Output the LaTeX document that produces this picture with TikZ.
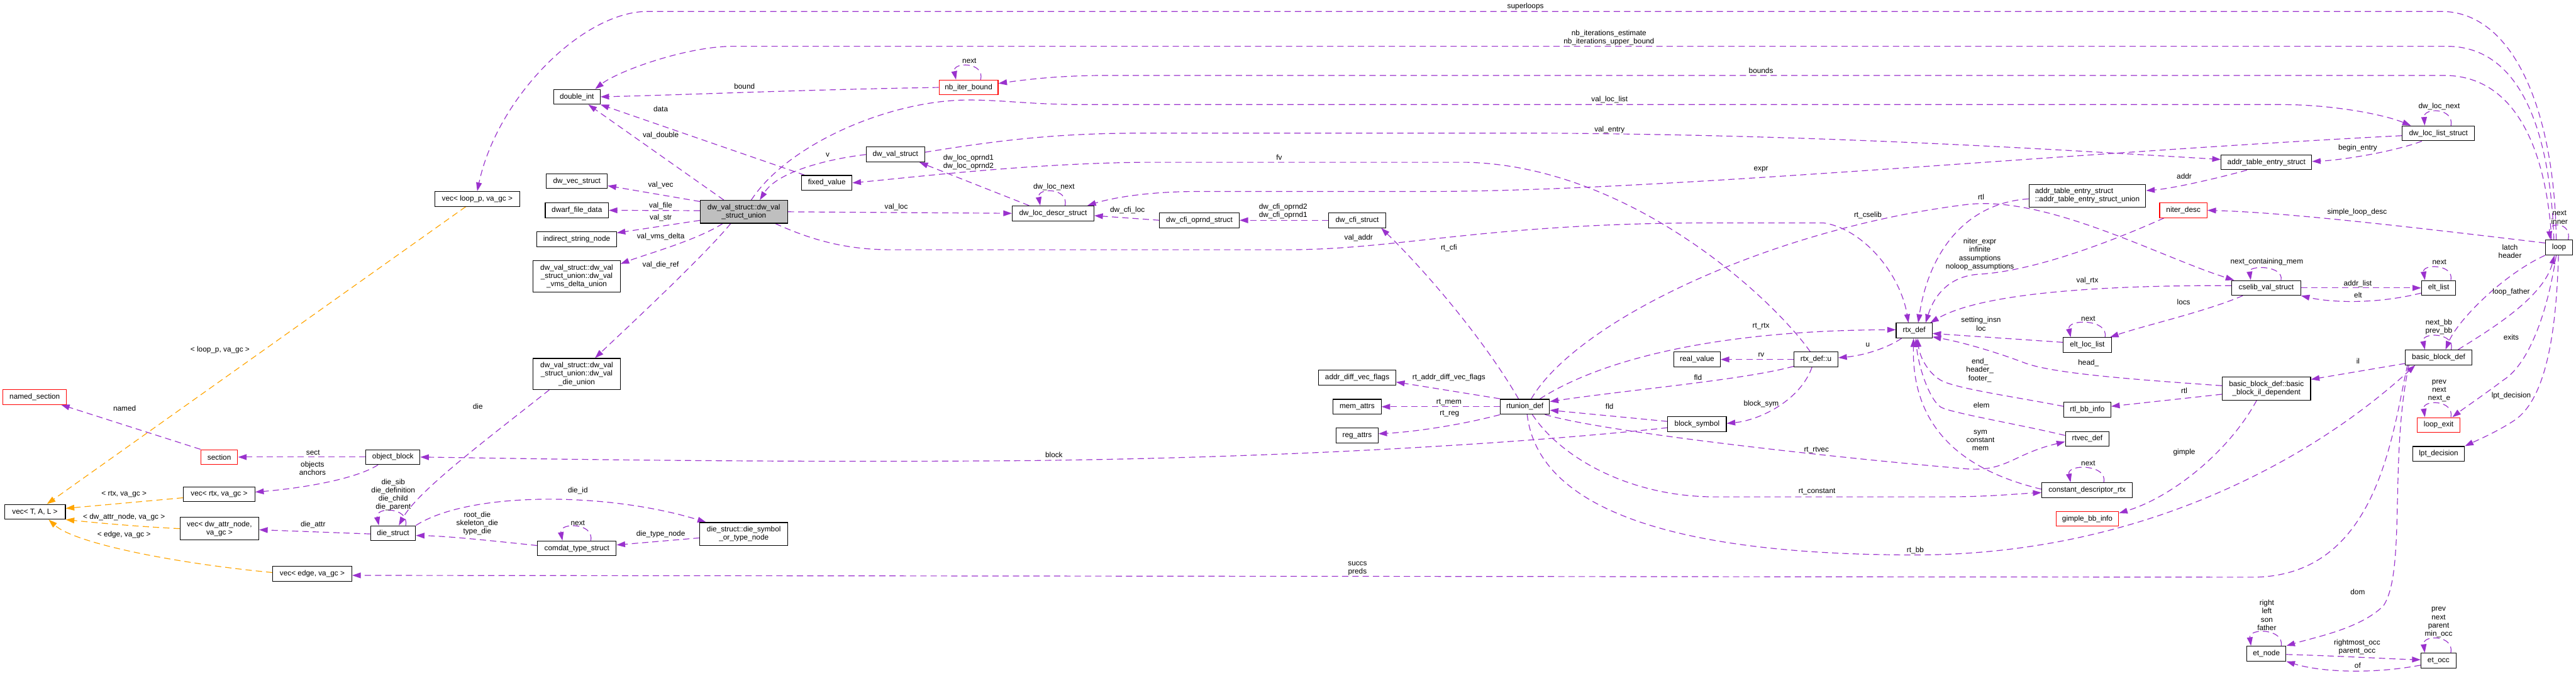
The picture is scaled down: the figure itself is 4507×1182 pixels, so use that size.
\documentclass[tikz,border=0pt]{standalone}
\usepackage{fontspec}
\setmainfont{Liberation Sans}
\usetikzlibrary{arrows.meta}
\definecolor{epurple}{HTML}{9A32CD}
\definecolor{eorange}{HTML}{FFA500}
\definecolor{hlgray}{HTML}{BFBFBF}
\newcommand\dxfont{\fontsize{13}{14.5}\selectfont}
\pgfdeclarelayer{bg}
\pgfdeclarelayer{edges}
\pgfsetlayers{bg,edges,main}
\tikzset{
 cls/.style={draw=black, line width=1.2pt, fill=white, inner sep=0pt, minimum height=26pt, font=\dxfont, align=center},
 cls2/.style={cls, minimum height=40pt},
 cls3/.style={cls, minimum height=54.5pt},
 hl/.style={fill=hlgray},
 redbox/.style={draw=red},
 lnk/.style={draw=epurple, line width=1.3pt, dash pattern=on 11pt off 7pt, -{Triangle[length=15pt,width=10pt]}},
 lnko/.style={lnk, draw=eorange},
 lbl/.style={font=\dxfont, align=center, inner sep=0pt, text=black},
}
\begin{document}
\begin{tikzpicture}[x=1pt,y=-1pt]
\begin{pgfonlayer}{bg}
\fill[white] (0,0) rectangle (4507,1182);
\end{pgfonlayer}
\useasboundingbox (0,0) rectangle (4507,1182);

% ---------------- nodes ----------------
\node[cls, minimum width=148pt] (vloop) at (835,348) {vec< loop\_p, va\_gc >};
\node[cls, minimum width=81.4pt] (dint) at (1009.3,169.4) {double\_int};
\node[cls, minimum width=106.6pt] (dvec) at (1009.3,317) {dw\_vec\_struct};
\node[cls, minimum width=110.6pt] (dfile) at (1009.3,368) {dwarf\_file\_data};
\node[cls, minimum width=139pt] (isn) at (1009,418.5) {indirect\_string\_node};
\node[cls3, minimum width=152.3pt] (vms) at (1009,483.7) {dw\_val\_struct::dw\_val\\\_struct\_union::dw\_val\\\_vms\_delta\_union};
\node[cls2, hl, minimum width=152.7pt] (main) at (1301.4,370.6) {dw\_val\_struct::dw\_val\\\_struct\_union};
\node[cls, minimum width=88.2pt] (fixv) at (1446.6,320) {fixed\_value};
\node[cls, minimum width=102.3pt] (dvs) at (1566.6,270.4) {dw\_val\_struct};
\node[cls, redbox, minimum width=103.2pt] (nbib) at (1694.6,153) {nb\_iter\_bound};
\node[cls, minimum width=143pt] (dlds) at (1842.5,373.3) {dw\_loc\_descr\_struct};
\node[cls, minimum width=139.2pt] (dcos) at (2098.4,385.4) {dw\_cfi\_oprnd\_struct};
\node[cls, minimum width=99.9pt] (dcs) at (2374.5,385.4) {dw\_cfi\_struct};
\node[cls2, minimum width=204.5pt, align=left] (ateu) at (3652,342.5) {addr\_table\_entry\_struct\\::addr\_table\_entry\_struct\_union};
\node[cls, minimum width=63pt] (rtx) at (3349,578.5) {rtx\_def};
\node[cls, minimum width=158.4pt] (ate) at (3965.3,284) {addr\_table\_entry\_struct};
\node[cls, minimum width=126.5pt] (dlls) at (4266.2,233.4) {dw\_loc\_list\_struct};
\node[cls, redbox, minimum width=83pt] (niter) at (3820,368) {niter\_desc};
\node[cls, minimum width=47.8pt] (loop) at (4477.3,433.2) {loop};
\node[cls, minimum width=120.7pt] (cselib) at (3964.9,503.8) {cselib\_val\_struct};
\node[cls, minimum width=59.8pt] (eltl) at (4266.6,503.8) {elt\_list};
\node[cls, minimum width=115.8pt] (bbd) at (4266.6,625.4) {basic\_block\_def};
\node[cls2, minimum width=154.6pt] (bbil) at (3965.3,679.9) {basic\_block\_def::basic\\\_block\_il\_dependent};
\node[cls, redbox, minimum width=75.2pt] (lexit) at (4266.6,743.7) {loop\_exit};
\node[cls, minimum width=90.8pt] (lpt) at (4266.6,794.2) {lpt\_decision};
\node[cls, minimum width=68.6pt] (etn) at (3965.3,1143.7) {et\_node};
\node[cls, minimum width=61.3pt] (eto) at (4266.4,1155.9) {et\_occ};
\node[cls, redbox, minimum width=111pt] (nsec) at (60.8,694.6) {named\_section};
\node[cls, redbox, minimum width=64.5pt] (sec) at (383.6,799.8) {section};
\node[cls, minimum width=94.5pt] (ob) at (687.5,799.8) {object\_block};
\node[cls, minimum width=125pt] (vrtx) at (383.4,865) {vec< rtx, va\_gc >};
\node[cls, minimum width=106.6pt] (vtal) at (61.1,895.6) {vec< T, A, L >};
\node[cls2, minimum width=137.7pt] (vattr) at (383.9,925) {vec< dw\_attr\_node,\\va\_gc >};
\node[cls, minimum width=78.5pt] (die) at (687.8,933) {die\_struct};
\node[cls, minimum width=138.6pt] (vedge) at (546.3,1003.8) {vec< edge, va\_gc >};
\node[cls3, minimum width=152.3pt] (dieu) at (1009,654.4) {dw\_val\_struct::dw\_val\\\_struct\_union::dw\_val\\\_die\_union};
\node[cls, minimum width=137.6pt] (comdat) at (1009.3,959.6) {comdat\_type\_struct};
\node[cls2, minimum width=153.7pt] (dsym) at (1301.4,934.4) {die\_struct::die\_symbol\\\_or\_type\_node};
\node[cls, minimum width=134.8pt] (adv) at (2374.6,661) {addr\_diff\_vec\_flags};
\node[cls, minimum width=84pt] (mem) at (2374.4,711.7) {mem\_attrs};
\node[cls, minimum width=73.3pt] (reg) at (2374.4,762) {reg\_attrs};
\node[cls, minimum width=86.3pt] (rtu) at (2667.9,711.7) {rtunion\_def};
\node[cls, minimum width=81.1pt] (rv) at (2969.2,629) {real\_value};
\node[cls, minimum width=102.4pt] (bsym) at (2969.2,742.4) {block\_symbol};
\node[cls, minimum width=77pt] (rtxu) at (3177.2,629) {rtx\_def::u};
\node[cls, minimum width=84.3pt] (ell) at (3651.9,603.7) {elt\_loc\_list};
\node[cls, minimum width=82.3pt] (rbb) at (3651.9,717) {rtl\_bb\_info};
\node[cls, minimum width=76.6pt] (rtvec) at (3651.9,767.9) {rtvec\_def};
\node[cls, minimum width=158.6pt] (cdr) at (3651.7,857.5) {constant\_descriptor\_rtx};
\node[cls, redbox, minimum width=109.5pt] (gbb) at (3652,907.9) {gimple\_bb\_info};

% ---------------- labels ----------------
\node[lbl] (l01) at (2669,11.5) {superloops};
\node[lbl] (l02) at (2815,66) {nb\_iterations\_estimate\\nb\_iterations\_upper\_bound};
\node[lbl] (l03) at (3081,123.6) {bounds};
\node[lbl] (l04) at (1302.5,151) {bound};
\node[lbl] (l05) at (1696,106) {next};
\node[lbl] (l06) at (2816,174.5) {val\_loc\_list};
\node[lbl] (l07) at (4267.6,186) {dw\_loc\_next};
\node[lbl] (l08) at (2816,227) {val\_entry};
\node[lbl] (l09) at (1448,271) {v};
\node[lbl] (l10) at (2238,275) {fv};
\node[lbl] (l11) at (1156,191) {data};
\node[lbl] (l12) at (1156,236.5) {val\_double};
\node[lbl] (l13) at (1156,324) {val\_vec};
\node[lbl] (l14) at (1156,359.7) {val\_file};
\node[lbl] (l15) at (1156,380.8) {val\_str};
\node[lbl] (l16) at (1156,414.5) {val\_vms\_delta};
\node[lbl] (l17) at (1156,464) {val\_die\_ref};
\node[lbl] (l18) at (1568,362) {val\_loc};
\node[lbl] (l19) at (1694.5,283.8) {dw\_loc\_oprnd1\\dw\_loc\_oprnd2};
\node[lbl] (l20) at (1844,327) {dw\_loc\_next};
\node[lbl] (l21) at (1972.6,368) {dw\_cfi\_loc};
\node[lbl] (l22) at (2245,369.7) {dw\_cfi\_oprnd2\\dw\_cfi\_oprnd1};
\node[lbl] (l23) at (2377,416.4) {val\_addr};
\node[lbl] (l24) at (3081,297) {expr};
\node[lbl] (l25) at (4125,258.7) {begin\_entry};
\node[lbl] (l26) at (3821.5,308.5) {addr};
\node[lbl] (l27) at (3466,344.4) {rtl};
\node[lbl] (l28) at (3268,376.6) {rt\_cselib};
\node[lbl] (l29) at (3464,445) {niter\_expr\\infinite\\assumptions\\noloop\_assumptions};
\node[lbl] (l30) at (2535,434) {rt\_cfi};
\node[lbl] (l31) at (3652,491) {val\_rtx};
\node[lbl] (l32) at (3820.5,529) {locs};
\node[lbl] (l33) at (3653.5,558) {next};
\node[lbl] (l34) at (3466,567) {setting\_insn\\loc};
\node[lbl] (l35) at (3081,571) {rt\_rtx};
\node[lbl] (l36) at (3268,604) {u};
\node[lbl] (l37) at (3081.4,621) {rv};
\node[lbl] (l38) at (3654,635) {head\_};
\node[lbl] (l39) at (3464,647.8) {end\_\\header\_\\footer\_};
\node[lbl] (l40) at (2535,660.6) {rt\_addr\_diff\_vec\_flags};
\node[lbl] (l41) at (2970.8,660) {fld};
\node[lbl] (l42) at (2535,704) {rt\_mem};
\node[lbl] (l43) at (3081.4,707) {block\_sym};
\node[lbl] (l44) at (3466.8,709) {elem};
\node[lbl] (l45) at (2816,710.8) {fld};
\node[lbl] (l46) at (2536,724) {rt\_reg};
\node[lbl] (l47) at (3465,770.5) {sym\\constant\\mem};
\node[lbl] (l48) at (3178,787.5) {rt\_rtvec};
\node[lbl] (l49) at (3653.5,811) {next};
\node[lbl] (l50) at (3179,860.7) {rt\_constant};
\node[lbl] (l51) at (3351,963) {rt\_bb};
\node[lbl] (l52) at (2375,995) {succs\\preds};
\node[lbl] (l53) at (3821.5,792) {gimple};
\node[lbl] (l54) at (3821.5,683.6) {rtl};
\node[lbl] (l55) at (4125.6,631.5) {il};
\node[lbl] (l56) at (4125,1035.6) {dom};
\node[lbl] (l57) at (3966,1076.5) {right\\left\\son\\father};
\node[lbl] (l58) at (4124,1132.5) {rightmost\_occ\\parent\_occ};
\node[lbl] (l59) at (4125,1164) {of};
\node[lbl] (l60) at (4266.6,1089) {prev\\next\\parent\\min\_occ};
\node[lbl] (l61) at (4124,371.2) {simple\_loop\_desc};
\node[lbl] (l62) at (4478,380.4) {next\\inner};
\node[lbl] (l63) at (4391.5,440) {latch\\header};
\node[lbl] (l64) at (4267,572) {next\_bb\\prev\_bb};
\node[lbl] (l65) at (4393.6,511) {loop\_father};
\node[lbl] (l66) at (4393.6,590.5) {exits};
\node[lbl] (l67) at (4393.6,692.7) {lpt\_decision};
\node[lbl] (l68) at (4267.6,684) {prev\\next\\next\_e};
\node[lbl] (l69) at (3966,458.5) {next\_containing\_mem};
\node[lbl] (l70) at (4125,496.3) {addr\_list};
\node[lbl] (l71) at (4125.6,515.9) {elt};
\node[lbl] (l72) at (4268,458.5) {next};
\node[lbl] (l73) at (218,714.6) {named};
\node[lbl] (l74) at (547.7,792) {sect};
\node[lbl] (l75) at (546.8,819.2) {objects\\anchors};
\node[lbl] (l76) at (688,865.7) {die\_sib\\die\_definition\\die\_child\\die\_parent};
\node[lbl] (l77) at (836,711.6) {die};
\node[lbl] (l78) at (835,916) {root\_die\\skeleton\_die\\type\_die};
\node[lbl] (l79) at (1011,859) {die\_id};
\node[lbl] (l80) at (547.7,918.5) {die\_attr};
\node[lbl] (l81) at (1156,934.4) {die\_type\_node};
\node[lbl] (l82) at (1011,914.7) {next};
\node[lbl] (l83) at (1844,795.8) {block};
\node[lbl] (l84) at (385,612.7) {< loop\_p, va\_gc >};
\node[lbl] (l85) at (217,865) {< rtx, va\_gc >};
\node[lbl] (l86) at (217,904.5) {< dw\_attr\_node, va\_gc >};
\node[lbl] (l87) at (217,936) {< edge, va\_gc >};

% ---------------- edges ----------------
\begin{pgfonlayer}{edges}
% loop block at the top
\draw[lnk] ([xshift=-5pt]loop.north) .. controls (4470,200) and (4400,20) .. (4271,20) -- (1133,20) .. controls (1020,20) and (870,170) .. (vloop.north);
\draw[lnk] ([xshift=-9pt]loop.north) .. controls (4462,230) and (4410,81) .. (4281,81) -- (1283,81) .. controls (1200,81) and (1080,125) .. ([xshift=32pt]dint.north);
\draw[lnk] ([xshift=-13pt]loop.north) .. controls (4455,260) and (4400,132) .. (4276,132) -- (1936,132) .. controls (1850,132) and (1790,140) .. ([yshift=7pt]nbib.east);
\draw[lnk] (nbib.west) .. controls (1400,157) and (1200,166) .. (dint.east);
\draw[lnk] ([xshift=21pt]nbib.north) .. controls (1724,108) and (1666,108) .. ([xshift=-22pt]nbib.north);
% dwarf structures
\draw[lnk] ([xshift=13pt]main.north) .. controls (1380,250) and (1560,175) .. (1694,175) .. controls (1760,175) and (1800,183) .. (1900,183) -- (3991,183) .. controls (4080,183) and (4170,200) .. ([xshift=-48pt]dlls.north);
\draw[lnk] ([xshift=22pt]dlls.north) .. controls (4294,188) and (4240,188) .. ([xshift=-24pt]dlls.north);
\draw[lnk] ([yshift=4pt]dvs.east) .. controls (1750,245) and (1850,233) .. (2000,233) -- (2700,233) .. controls (3200,236) and (3600,262) .. ([yshift=5pt]ate.west);
\draw[lnk] (dvs.west) .. controls (1450,278) and (1360,300) .. ([xshift=28pt]main.north);
\draw[lnk] ([xshift=-10pt]rtxu.north) .. controls (3100,520) and (2850,290) .. (2565,284) -- (2000,284) .. controls (1800,286) and (1600,310) .. (fixv.east);
\draw[lnk] ([xshift=6pt]fixv.north west) -- (dint.south east);
\draw[lnk] ([xshift=-35pt]main.north) -- ([xshift=20pt]dint.south);
\draw[lnk] ([yshift=18pt]main.west) -- ([yshift=-8pt]dvec.east);
\draw[lnk] ([yshift=2pt]main.west) -- (dfile.east);
\draw[lnk] ([yshift=-15pt]main.west) -- ([yshift=11pt]isn.east);
\draw[lnk] ([xshift=-37pt]main.south) .. controls (1220,420) and (1130,445) .. ([yshift=22pt]vms.east);
\draw[lnk] ([xshift=-23pt]main.south) .. controls (1230,450) and (1090,580) .. ([xshift=32pt]dieu.north);
\draw[lnk] (main.east) -- (dlds.west);
\draw[lnk] ([xshift=55pt]main.south) .. controls (1420,420) and (1480,437) .. (1560,437) -- (2250,437) .. controls (2450,437) and (2600,390) .. (3000,390) -- (3190,390) .. controls (3260,400) and (3325,480) .. ([xshift=-10pt]rtx.north);
\draw[lnk] ([xshift=-42pt]dlds.north) -- ([xshift=42pt]dvs.south);
\draw[lnk] ([xshift=21pt]dlds.north) .. controls (1870,328) and (1814,328) .. ([xshift=-22.5pt]dlds.north);
\draw[lnk] ([yshift=-4pt]dlls.west) .. controls (3600,268) and (2900,335) .. (2500,335) -- (2100,335) .. controls (2000,335) and (1940,348) .. ([xshift=60pt]dlds.north);
\draw[lnk] ([xshift=-29pt]dlls.south) .. controls (4190,265) and (4100,280) .. ([yshift=1.5pt]ate.east);
\draw[lnk] ([xshift=-34pt]ate.south) .. controls (3880,312) and (3800,330) .. ([yshift=9pt]ateu.east);
\draw[lnk] (dcos.west) -- ([yshift=-4pt]dlds.east);
\draw[lnk] (dcs.west) -- (dcos.east);
% rtl structures
\draw[lnk] ([yshift=-5.5pt]ateu.west) .. controls (3440,355) and (3375,440) .. ([xshift=7pt]rtx.north);
\draw[lnk] ([xshift=11pt]rtu.north) .. controls (2760,560) and (3100,400) .. (3440,358) .. controls (3580,341) and (3780,450) .. ([xshift=-56pt]cselib.north);
\draw[lnk] ([xshift=-34pt]niter.south) .. controls (3700,420) and (3560,475) .. (3460,480) .. controls (3400,485) and (3380,530) .. ([xshift=20pt]rtx.north);
\draw[lnk] ([xshift=26pt]rtu.north) .. controls (2800,630) and (3000,578) .. ([yshift=1.5pt]rtx.west);
\draw[lnk] ([yshift=4pt]cselib.west) .. controls (3700,499) and (3470,510) .. ([xshift=28pt]rtx.north);
\draw[lnk] ([xshift=-41pt]cselib.south) .. controls (3860,545) and (3750,570) .. ([xshift=-3pt]ell.north east);
\draw[lnk] ([xshift=31pt]ell.north) .. controls (3690,557.7) and (3616,557.7) .. ([xshift=-29pt]ell.north);
\draw[lnk] ([yshift=4.7pt]ell.west) -- ([yshift=-5pt]rtx.east);
\draw[lnk] ([yshift=5pt]bbil.west) .. controls (3750,665) and (3600,655) .. (3545,636) .. controls (3490,615) and (3430,598) .. ([yshift=-11pt]rtx.east);
\draw[lnk] ([yshift=6pt]rbb.west) .. controls (3530,695) and (3420,680) .. (3395,665) .. controls (3370,650) and (3358,620) .. ([xshift=6pt]rtx.south);
\draw[lnk] ([yshift=6pt]rtvec.west) .. controls (3530,742) and (3410,722) .. (3395,712) .. controls (3375,698) and (3356,640) .. ([xshift=3pt]rtx.south);
\draw[lnk] ([yshift=1.5pt]cdr.west) .. controls (3400,815) and (3345,720) .. ([xshift=-1pt]rtx.south);
\draw[lnk] ([xshift=29pt]cdr.north) .. controls (3688,811.7) and (3616,811.7) .. ([xshift=-29pt]cdr.north);
\draw[lnk] ([xshift=35pt]rtu.south) .. controls (2800,755) and (3200,800) .. (3436,820) .. controls (3510,827) and (3520,795) .. ([yshift=-5pt]rtvec.west);
\draw[lnk] ([xshift=13pt]rtu.south) .. controls (2730,800) and (2850,869) .. (3000,869.4) -- (3400,869.4) .. controls (3480,869.4) and (3530,864) .. ([yshift=-4.5pt]cdr.west);
\draw[lnk] ([xshift=4pt]rtu.south) .. controls (2690,880) and (2900,971) .. (3351,971) .. controls (3750,971) and (4050,800) .. ([xshift=-41pt]bbd.south);
\draw[lnk] ([xshift=-11pt]rtu.north) .. controls (2600,600) and (2500,480) .. ([xshift=42pt]dcs.south);
\draw[lnk] ([yshift=14pt]rtu.west) -- ([yshift=-7.5pt]adv.east);
\draw[lnk] (rtu.west) -- (mem.east);
\draw[lnk] ([yshift=-14pt]rtu.west) .. controls (2550,745) and (2470,756) .. ([yshift=3pt]reg.east);
\draw[lnk] ([yshift=-12pt]rtxu.west) .. controls (3050,665) and (2850,682) .. ([yshift=9pt]rtu.east);
\draw[lnk] ([yshift=5pt]bsym.west) -- ([yshift=-6pt]rtu.east);
\draw[lnk] ([yshift=-6pt]bsym.west) .. controls (2700,772) and (2300,800) .. (1800,806) .. controls (1300,810) and (900,802) .. (ob.east);
\draw[lnk] (rtxu.west) -- (rv.east);
\draw[lnk] ([xshift=-22pt]rtx.south) .. controls (3300,610) and (3260,622) .. ([yshift=3pt]rtxu.east);
\draw[lnk] ([xshift=-7pt]rtxu.south) .. controls (3150,700) and (3080,735) .. ([yshift=1.5pt]bsym.east);
% basic blocks and loops
\draw[lnk] ([xshift=4pt]bbd.south west) .. controls (4185,760) and (4160,1010) .. (3940,1010) -- ([yshift=-3pt]vedge.east);
\draw[lnk] ([xshift=-52pt]bbd.south) .. controls (4180,800) and (4210,1000) .. (4170,1060) .. controls (4130,1100) and (4050,1115) .. (etn.north east);
\draw[lnk] (loop.south west) .. controls (4380,480) and (4300,560) .. ([xshift=12pt]bbd.north);
\draw[lnk] ([xshift=22pt]bbd.north) .. controls (4296,581) and (4236,581) .. ([xshift=-24pt]bbd.north);
\draw[lnk] ([xshift=34pt]bbd.north) .. controls (4360,575) and (4450,520) .. ([xshift=-8pt]loop.south);
\draw[lnk] ([xshift=-5pt]loop.south) .. controls (4455,560) and (4420,640) .. (4380,665) .. controls (4340,695) and (4310,715) .. ([xshift=24pt]lexit.north);
\draw[lnk] ([xshift=-1pt]loop.south) .. controls (4472,600) and (4450,700) .. (4400,735) .. controls (4370,755) and (4335,770) .. (lpt.north east);
\draw[lnk] ([xshift=21.5pt]lexit.north) .. controls (4294,699) and (4238,699) .. ([xshift=-24pt]lexit.north);
\draw[lnk] ([yshift=8pt]loop.west) .. controls (4200,395) and (4000,372) .. (niter.east);
\draw[lnk] ([xshift=16pt]loop.north) .. controls (4500,388) and (4458,388) .. ([xshift=-15pt]loop.north);
\draw[lnk] ([yshift=-10.6pt]bbd.west) -- ([yshift=16pt]bbil.east);
\draw[lnk] ([yshift=-10pt]bbil.west) -- ([yshift=6pt]rbb.east);
\draw[lnk] ([xshift=-17pt]bbil.south) .. controls (3900,790) and (3800,870) .. ([yshift=10pt]gbb.east);
\draw[lnk] ([xshift=26pt]etn.north) .. controls (3996,1099) and (3934,1099) .. ([xshift=-27pt]etn.north);
\draw[lnk] ([yshift=-1.5pt]etn.east) .. controls (4100,1148) and (4180,1153) .. ([yshift=1.5pt]eto.west);
\draw[lnk] ([yshift=-8pt]eto.west) .. controls (4150,1180) and (4060,1176) .. (etn.south east);
\draw[lnk] ([xshift=21.6pt]eto.north) .. controls (4294,1110.4) and (4238,1110.4) .. ([xshift=-24pt]eto.north);
\draw[lnk] ([xshift=26pt]cselib.north) .. controls (3996,463.9) and (3934,463.9) .. ([xshift=-27pt]cselib.north);
\draw[lnk] (cselib.east) -- (eltl.west);
\draw[lnk] ([yshift=-9pt]eltl.west) .. controls (4160,532) and (4080,530) .. (cselib.south east);
\draw[lnk] ([xshift=21.4pt]eltl.north) .. controls (4294,461.7) and (4238,461.7) .. ([xshift=-24pt]eltl.north);
% left part
\draw[lnk] (sec.north west) -- ([xshift=46pt]nsec.south);
\draw[lnk] (ob.west) -- (sec.east);
\draw[lnk] ([xshift=-26pt]ob.south) .. controls (620,840) and (520,855) .. ([yshift=4pt]vrtx.east);
\draw[lnk] ([xshift=22pt]die.north) .. controls (716,886.5) and (656,886.5) .. ([xshift=-25pt]die.north);
\draw[lnk] ([xshift=-48pt]dieu.south) .. controls (850,770) and (730,860) .. ([xshift=10pt]die.north);
\draw[lnk] ([yshift=5pt]comdat.west) .. controls (850,945) and (780,938) .. ([yshift=-4pt]die.east);
\draw[lnk] (die.north east) .. controls (820,860) and (1060,860) .. ([xshift=-66pt]dsym.north);
\draw[lnk] ([yshift=-1.3pt]die.west) -- ([yshift=-2pt]vattr.east);
\draw[lnk] ([yshift=-6.8pt]dsym.west) -- ([yshift=6pt]comdat.east);
\draw[lnk] ([xshift=24.3pt]comdat.north) .. controls (1040,914) and (978,914) .. ([xshift=-25.3pt]comdat.north);
% template instances
\draw[lnko] ([xshift=-20pt]vloop.south) -- ([xshift=21pt]vtal.north);
\draw[lnko] ([yshift=-6pt]vrtx.west) -- ([yshift=6pt]vtal.east);
\draw[lnko] (vattr.west) .. controls (250,922) and (170,915) .. (vtal.south east);
\draw[lnko] ([yshift=2pt]vedge.west) .. controls (300,985) and (130,950) .. ([xshift=24pt]vtal.south);
\end{pgfonlayer}
\end{tikzpicture}
\end{document}
